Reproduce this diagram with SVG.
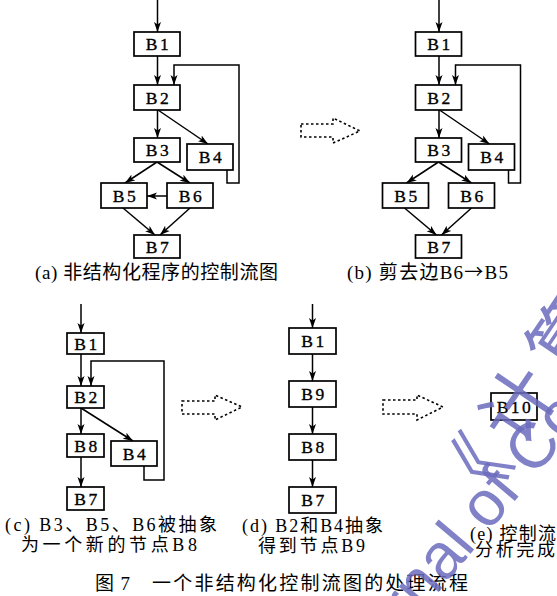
<svg xmlns="http://www.w3.org/2000/svg" width="557" height="596" viewBox="0 0 557 596">
<style>
.box{fill:#fff;stroke:#000;stroke-width:1.7}
.lbl{font-family:"Liberation Serif",serif;font-size:17.5px;text-anchor:middle;letter-spacing:2.5px;fill:#000;stroke:#000;stroke-width:0.35}
.edge{fill:none;stroke:#000;stroke-width:1.5;marker-end:url(#ah)}
.cap{font-family:"Liberation Serif","Noto Sans CJK SC",serif;font-size:18px;fill:#000}
.big{font-size:19px}
.arr{font-family:"Noto Sans CJK SC",sans-serif}
.dot{fill:none;stroke:#000;stroke-width:1.6;stroke-dasharray:2.5 2.5}
.wm{fill:#6b6bbd;fill-opacity:0.85;font-family:"Liberation Sans","Noto Sans CJK SC",sans-serif}
</style>
<defs>
<marker id="ah" viewBox="0 0 10 8" refX="10" refY="4" markerWidth="10" markerHeight="8" markerUnits="userSpaceOnUse" orient="auto">
<path d="M0,0.5 L10,4 L0,7.5 L2.5,4 z" fill="#000"/>
</marker>
</defs>
<rect width="557" height="596" fill="#fff"/>

<!-- Panel a -->
<g id="connectors-a">
<path class="edge" d="M157.5,0 V32"/>
<path class="edge" d="M157.5,56 V85"/>
<path class="edge" d="M157.5,110 V138"/>
<path class="edge" d="M158,110 L208,144"/>
<path class="edge" d="M157,162 L125,183"/>
<path class="edge" d="M157,162 L190,183"/>
<path class="edge" d="M167,196 H147"/>
<path class="edge" d="M123,208 L155,235"/>
<path class="edge" d="M190,208 L160,235"/>
<path class="edge" d="M227,170 V183 H239 V65 H174 V85"/>
</g>
<g id="a-B1"><rect class="box" x="134" y="32" width="46" height="24"/><text class="lbl" x="158.5" y="50">B1</text></g>
<g id="a-B2"><rect class="box" x="134" y="85" width="46" height="25"/><text class="lbl" x="158.5" y="103.5">B2</text></g>
<g id="a-B3"><rect class="box" x="134" y="138" width="46" height="24"/><text class="lbl" x="158.5" y="156">B3</text></g>
<g id="a-B4"><rect class="box" x="187" y="144" width="46" height="26"/><text class="lbl" x="211.5" y="163">B4</text></g>
<g id="a-B5"><rect class="box" x="101" y="183" width="46" height="25"/><text class="lbl" x="125.5" y="201.5">B5</text></g>
<g id="a-B6"><rect class="box" x="167" y="183" width="46" height="25"/><text class="lbl" x="191.5" y="201.5">B6</text></g>
<g id="a-B7"><rect class="box" x="134" y="235" width="46" height="23"/><text class="lbl" x="158.5" y="252.5">B7</text></g>

<!-- Panel b -->
<g id="connectors-b" transform="translate(281.5,0)">
<path class="edge" d="M157.5,0 V32"/>
<path class="edge" d="M157.5,56 V85"/>
<path class="edge" d="M157.5,110 V138"/>
<path class="edge" d="M158,110 L208,144"/>
<path class="edge" d="M157,162 L125,183"/>
<path class="edge" d="M157,162 L190,183"/>
<path class="edge" d="M123,208 L155,235"/>
<path class="edge" d="M190,208 L160,235"/>
<path class="edge" d="M227,170 V183 H239 V65 H174 V85"/>
</g>
<g id="b-B1"><rect class="box" x="415.5" y="32" width="46" height="24"/><text class="lbl" x="440" y="50">B1</text></g>
<g id="b-B2"><rect class="box" x="415.5" y="85" width="46" height="25"/><text class="lbl" x="440" y="103.5">B2</text></g>
<g id="b-B3"><rect class="box" x="415.5" y="138" width="46" height="24"/><text class="lbl" x="440" y="156">B3</text></g>
<g id="b-B4"><rect class="box" x="468.5" y="144" width="46" height="26"/><text class="lbl" x="493" y="163">B4</text></g>
<g id="b-B5"><rect class="box" x="382.5" y="183" width="46" height="25"/><text class="lbl" x="407" y="201.5">B5</text></g>
<g id="b-B6"><rect class="box" x="448.5" y="183" width="46" height="25"/><text class="lbl" x="473" y="201.5">B6</text></g>
<g id="b-B7"><rect class="box" x="415.5" y="235" width="46" height="23"/><text class="lbl" x="440" y="252.5">B7</text></g>

<!-- Panel c -->
<g id="connectors-c">
<path class="edge" d="M81,304 V333"/>
<path class="edge" d="M81,354 V386"/>
<path class="edge" d="M144,466 V480 H164 V361 H91 V386"/>
<path class="edge" d="M81,408 V434"/>
<path class="edge" d="M81,408 L133,441"/>
<path class="edge" d="M81,457 V487"/>
</g>
<g id="c-B1"><rect class="box" x="67" y="333" width="37" height="21"/><text class="lbl" x="87" y="349.5">B1</text></g>
<g id="c-B2"><rect class="box" x="67" y="386" width="37" height="22"/><text class="lbl" x="87" y="403">B2</text></g>
<g id="c-B8"><rect class="box" x="67" y="434" width="37" height="23"/><text class="lbl" x="87" y="451.5">B8</text></g>
<g id="c-B4"><rect class="box" x="111" y="441" width="46" height="25"/><text class="lbl" x="135.5" y="459.5">B4</text></g>
<g id="c-B7"><rect class="box" x="67" y="487" width="37" height="23"/><text class="lbl" x="87" y="504.5">B7</text></g>

<!-- Panel d -->
<g id="connectors-d">
<path class="edge" d="M312.5,304 V328"/>
<path class="edge" d="M312.5,354 V381"/>
<path class="edge" d="M312.5,407 V434"/>
<path class="edge" d="M312.5,460 V487"/>
</g>
<g id="d-B1"><rect class="box" x="289" y="328" width="47" height="26"/><text class="lbl" x="314" y="347">B1</text></g>
<g id="d-B9"><rect class="box" x="289" y="381" width="47" height="26"/><text class="lbl" x="314" y="400">B9</text></g>
<g id="d-B8"><rect class="box" x="289" y="434" width="47" height="26"/><text class="lbl" x="314" y="453">B8</text></g>
<g id="d-B7"><rect class="box" x="289" y="487" width="47" height="26"/><text class="lbl" x="314" y="506">B7</text></g>

<!-- Panel e -->
<g id="e-B10"><rect class="box" x="491" y="393" width="46" height="27"/><text class="lbl" x="515" y="412.5" letter-spacing="1">B10</text></g>

<!-- Transition arrows -->
<g id="transitions">
<path class="dot" d="M301,124 H333 V118 L360,131 L333,143 V137 H301 Z"/>
<path class="dot" d="M182,401 H215 V395 L242,407 L215,420 V414 H182 Z"/>
<path class="dot" d="M383,400 H417 V395 L443,407 L417,420 V414 H383 Z"/>
</g>

<!-- Captions -->
<g id="captions">
<text class="cap big" x="35" y="279" textLength="243">(a) 非结构化程序的控制流图</text>
<text class="cap big" x="347" y="279" textLength="161">(b) 剪去边B6<tspan class="arr">→</tspan>B5</text>
<text class="cap" x="5" y="531" textLength="212">(c) B3、B5、B6被抽象</text>
<text class="cap" x="21" y="551" textLength="176">为一个新的节点B8</text>
<text class="cap" x="242" y="532" textLength="141">(d) B2和B4抽象</text>
<text class="cap" x="258" y="552" textLength="107">得到节点B9</text>
<text class="cap" x="470" y="540" textLength="86">(e) 控制流</text>
<text class="cap" x="475" y="556" textLength="80">分析完成</text>
<text class="cap big" x="95" y="590" textLength="35">图7</text>
<text class="cap big" x="152" y="590" textLength="316">一个非结构化控制流图的处理流程</text>
</g>

<!-- Watermark -->
<g id="watermark" class="wm">
<text transform="translate(472,522) rotate(-56)" font-size="74" letter-spacing="12">《计算机学报》</text>
<text transform="translate(342,707) rotate(-50)" font-size="64">Journal of Computers</text>
</g>
</svg>
